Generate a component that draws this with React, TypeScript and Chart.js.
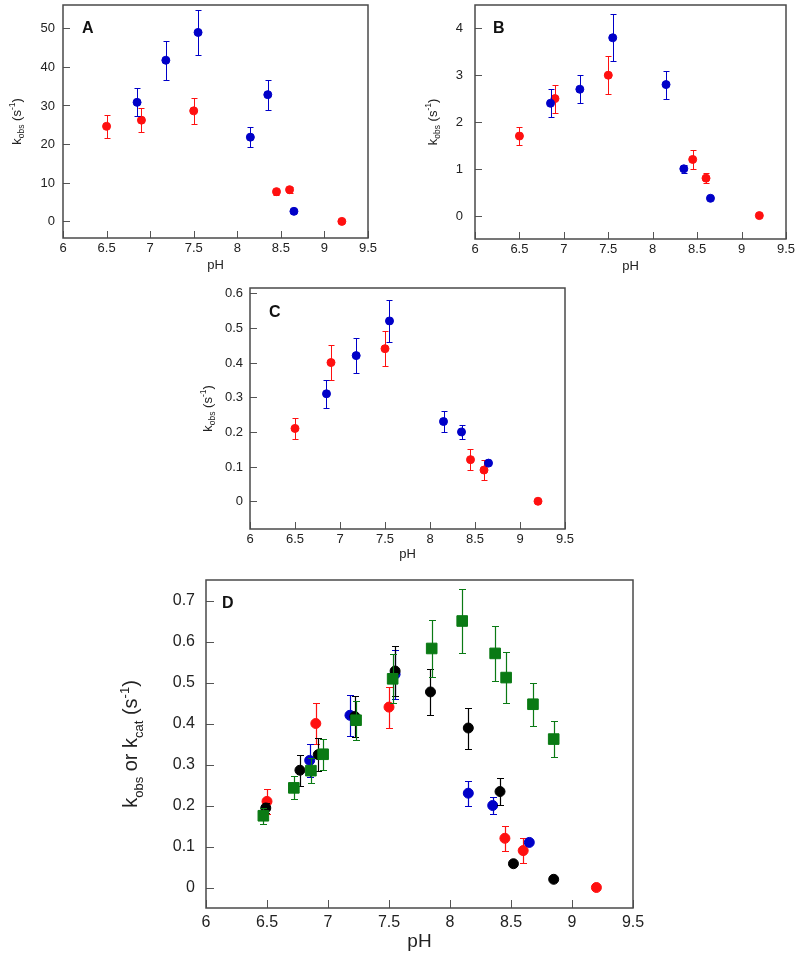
import React, { useEffect, useRef } from "react";
import { Chart, registerables } from "chart.js";

Chart.register(...registerables);

const FONT = '"Liberation Sans", Arial, Helvetica, sans-serif';

// ---------- shared axis values ----------
const xTicks = [6, 6.5, 7, 7.5, 8, 8.5, 9, 9.5];
const xTickLabels = ["6", "6.5", "7", "7.5", "8", "8.5", "9", "9.5"];

// ---------- Panel A ----------
const aBlueX = [6.85, 7.18, 7.55, 8.15, 8.35, 8.65];
const aBlueY = [30.8, 41.7, 48.9, 21.8, 32.8, 2.6];
const aBlueErr = [3.6, 5.0, 5.9, 2.6, 3.9, 0];
const aRedX = [6.5, 6.9, 7.5, 8.45, 8.6, 9.2];
const aRedY = [24.6, 26.2, 28.6, 7.7, 8.2, 0];
const aRedErr = [3.0, 3.1, 3.4, 0.8, 0.8, 0];
const aYTicks = [0, 10, 20, 30, 40, 50];
const aYLabels = ["0", "10", "20", "30", "40", "50"];

// ---------- Panel B ----------
const bBlueX = [6.85, 7.18, 7.55, 8.15, 8.35, 8.65];
const bBlueY = [2.4, 2.7, 3.8, 2.8, 1.0, 0.37];
const bBlueErr = [0.3, 0.3, 0.5, 0.3, 0.08, 0];
const bRedX = [6.5, 6.9, 7.5, 8.45, 8.6, 9.2];
const bRedY = [1.7, 2.5, 3.0, 1.2, 0.8, 0];
const bRedErr = [0.2, 0.3, 0.4, 0.2, 0.1, 0];
const bYTicks = [0, 1, 2, 3, 4];
const bYLabels = ["0", "1", "2", "3", "4"];

// ---------- Panel C (and D red/blue) ----------
const cBlueX = [6.85, 7.18, 7.55, 8.15, 8.35, 8.65];
const cBlueY = [0.31, 0.42, 0.52, 0.23, 0.2, 0.11];
const cBlueErr = [0.04, 0.05, 0.06, 0.03, 0.02, 0];
const cRedX = [6.5, 6.9, 7.5, 8.45, 8.6, 9.2];
const cRedY = [0.21, 0.4, 0.44, 0.12, 0.09, 0];
const cRedErr = [0.03, 0.05, 0.05, 0.03, 0.03, 0];
const cYTicks = [0, 0.1, 0.2, 0.3, 0.4, 0.5, 0.6];
const cYLabels = ["0", "0.1", "0.2", "0.3", "0.4", "0.5", "0.6"];

// ---------- Panel D extra series ----------
const dBlackX = [6.49, 6.77, 6.92, 7.22, 7.55, 7.84, 8.15, 8.41, 8.52, 8.85];
const dBlackY = [0.194, 0.286, 0.324, 0.417, 0.528, 0.477, 0.389, 0.234, 0.058, 0.02];
const dBlackErr = [0.012, 0.038, 0.04, 0.05, 0.06, 0.057, 0.05, 0.033, 0, 0];
const dGreenX = [6.47, 6.72, 6.86, 6.96, 7.23, 7.53, 7.85, 8.1, 8.37, 8.46, 8.68, 8.85];
const dGreenY = [0.175, 0.243, 0.285, 0.325, 0.408, 0.509, 0.583, 0.65, 0.571, 0.512, 0.447, 0.362];
const dGreenErr = [0.02, 0.028, 0.03, 0.038, 0.048, 0.06, 0.07, 0.077, 0.068, 0.062, 0.053, 0.043];
const dYTicks = [0, 0.1, 0.2, 0.3, 0.4, 0.5, 0.6, 0.7];
const dYLabels = ["0", "0.1", "0.2", "0.3", "0.4", "0.5", "0.6", "0.7"];

const RED = "#ff1010";
const BLUE = "#0000c8";
const BLACK = "#000000";
const GREEN = "#0a7a14";

type Part = { t: string; s: number; dy?: number };
type Series = { x: number[]; y: number[]; err: number[]; color: string; shape: "circle" | "rect" };
type PanelCfg = {
  box: { left: number; top: number; width: number; height: number };
  area: { l: number; t: number; r: number; b: number };
  yMin: number;
  yMax: number;
  yTicks: number[];
  yLabels: string[];
  tickFont: number;
  tickLen: number;
  yGap: number;
  xLabelDy: number;
  letter: string;
  letterX: number;
  letterY: number;
  letterFont: number;
  xTitleY: number;
  xTitleFont: number;
  yTitleX: number;
  yTitle: Part[];
  series: Series[];
  circleR: number;
  rectR: number;
  capW: number;
  errW: number;
  frameW: number;
};

function drawRich(ctx: CanvasRenderingContext2D, parts: Part[], cx: number, cy: number, rot: boolean, color: string) {
  ctx.save();
  ctx.translate(cx, cy);
  if (rot) ctx.rotate(-Math.PI / 2);
  ctx.fillStyle = color;
  ctx.textAlign = "left";
  ctx.textBaseline = "alphabetic";
  let total = 0;
  const widths = parts.map((p) => {
    ctx.font = `${p.s}px ${FONT}`;
    const w = ctx.measureText(p.t).width;
    total += w;
    return w;
  });
  const main = Math.max(...parts.map((p) => p.s));
  let x = -total / 2;
  parts.forEach((p, i) => {
    ctx.font = `${p.s}px ${FONT}`;
    ctx.fillText(p.t, x, main * 0.36 + (p.dy || 0));
    x += widths[i];
  });
  ctx.restore();
}

function titleK(main: number, sub: number): Part[] {
  return [
    { t: "k", s: main },
    { t: "obs", s: sub, dy: main * 0.28 },
    { t: " (s", s: main },
    { t: "-1", s: sub, dy: -main * 0.42 },
    { t: ")", s: main },
  ];
}

function titleKD(main: number, sub: number): Part[] {
  return [
    { t: "k", s: main },
    { t: "obs", s: sub, dy: main * 0.28 },
    { t: " or k", s: main },
    { t: "cat", s: sub, dy: main * 0.28 },
    { t: " (s", s: main },
    { t: "-1", s: sub, dy: -main * 0.42 },
    { t: ")", s: main },
  ];
}

const panels: PanelCfg[] = [
  {
    box: { left: 0, top: 0, width: 395, height: 282 },
    area: { l: 63, t: 5, r: 368, b: 238 },
    yMin: -4.3, yMax: 56, yTicks: aYTicks, yLabels: aYLabels,
    tickFont: 13, tickLen: 7, yGap: 8, xLabelDy: 10,
    letter: "A", letterX: 82, letterY: 33, letterFont: 16,
    xTitleY: 264, xTitleFont: 13, yTitleX: 16, yTitle: titleK(13, 8.5),
    series: [
      { x: aBlueX, y: aBlueY, err: aBlueErr, color: BLUE, shape: "circle" },
      { x: aRedX, y: aRedY, err: aRedErr, color: RED, shape: "circle" },
    ],
    circleR: 4, rectR: 6, capW: 3, errW: 1, frameW: 1.5,
  },
  {
    box: { left: 400, top: 0, width: 400, height: 282 },
    area: { l: 75, t: 5, r: 386, b: 239 },
    yMin: -0.5, yMax: 4.5, yTicks: bYTicks, yLabels: bYLabels,
    tickFont: 13, tickLen: 7, yGap: 12, xLabelDy: 10,
    letter: "B", letterX: 93, letterY: 33, letterFont: 16,
    xTitleY: 265, xTitleFont: 13, yTitleX: 32, yTitle: titleK(13, 8.5),
    series: [
      { x: bBlueX, y: bBlueY, err: bBlueErr, color: BLUE, shape: "circle" },
      { x: bRedX, y: bRedY, err: bRedErr, color: RED, shape: "circle" },
    ],
    circleR: 4, rectR: 6, capW: 3, errW: 1, frameW: 1.5,
  },
  {
    box: { left: 195, top: 280, width: 400, height: 290 },
    area: { l: 55, t: 8, r: 370, b: 249 },
    yMin: -0.08, yMax: 0.615, yTicks: cYTicks, yLabels: cYLabels,
    tickFont: 13, tickLen: 7, yGap: 7, xLabelDy: 10,
    letter: "C", letterX: 74, letterY: 37, letterFont: 16,
    xTitleY: 273, xTitleFont: 13, yTitleX: 12, yTitle: titleK(13, 8.5),
    series: [
      { x: cBlueX, y: cBlueY, err: cBlueErr, color: BLUE, shape: "circle" },
      { x: cRedX, y: cRedY, err: cRedErr, color: RED, shape: "circle" },
    ],
    circleR: 4, rectR: 6, capW: 3, errW: 1, frameW: 1.5,
  },
  {
    box: { left: 80, top: 565, width: 600, height: 396 },
    area: { l: 126, t: 15, r: 553, b: 343 },
    yMin: -0.05, yMax: 0.75, yTicks: dYTicks, yLabels: dYLabels,
    tickFont: 16, tickLen: 8, yGap: 11, xLabelDy: 15,
    letter: "D", letterX: 142, letterY: 43, letterFont: 16,
    xTitleY: 375, xTitleFont: 19, yTitleX: 50, yTitle: titleKD(20, 13),
    series: [
      { x: dGreenX, y: dGreenY, err: dGreenErr, color: GREEN, shape: "rect" },
      { x: dBlackX, y: dBlackY, err: dBlackErr, color: BLACK, shape: "circle" },
      { x: cBlueX, y: cBlueY, err: cBlueErr, color: BLUE, shape: "circle" },
      { x: cRedX, y: cRedY, err: cRedErr, color: RED, shape: "circle" },
    ],
    circleR: 5, rectR: 7.5, capW: 3.5, errW: 1.2, frameW: 1.5,
  },
];

function Panel({ cfg }: { cfg: PanelCfg }) {
  const ref = useRef<HTMLCanvasElement | null>(null);
  useEffect(() => {
    const canvas = ref.current;
    if (!canvas) return;
    const { area, box } = cfg;

    const framePlugin = {
      id: "frame",
      afterDraw(chart: any) {
        const ctx: CanvasRenderingContext2D = chart.ctx;
        const ca = chart.chartArea;
        const xs = chart.scales.x;
        const ys = chart.scales.y;
        ctx.save();
        // inward tick marks
        ctx.strokeStyle = "#555";
        ctx.lineWidth = 1;
        ctx.beginPath();
        cfg.yTicks.forEach((v) => {
          const py = Math.round(ys.getPixelForValue(v)) + 0.5;
          ctx.moveTo(ca.left, py);
          ctx.lineTo(ca.left + cfg.tickLen, py);
        });
        xTicks.forEach((v) => {
          const px = Math.round(xs.getPixelForValue(v)) + 0.5;
          ctx.moveTo(px, ca.bottom);
          ctx.lineTo(px, ca.bottom - cfg.tickLen);
        });
        ctx.stroke();
        // frame
        ctx.lineWidth = cfg.frameW;
        ctx.strokeStyle = "#4a4a4a";
        ctx.strokeRect(ca.left, ca.top, ca.right - ca.left, ca.bottom - ca.top);
        // tick labels
        ctx.fillStyle = "#222";
        ctx.font = `${cfg.tickFont}px ${FONT}`;
        ctx.textAlign = "right";
        ctx.textBaseline = "middle";
        cfg.yTicks.forEach((v, i) => {
          ctx.fillText(cfg.yLabels[i], ca.left - cfg.yGap, ys.getPixelForValue(v) + 0.5);
        });
        ctx.textAlign = "center";
        xTicks.forEach((v, i) => {
          ctx.fillText(xTickLabels[i], xs.getPixelForValue(v), ca.bottom + cfg.xLabelDy);
        });
        // panel letter
        ctx.fillStyle = "#111";
        ctx.font = `bold ${cfg.letterFont}px ${FONT}`;
        ctx.textAlign = "left";
        ctx.textBaseline = "alphabetic";
        ctx.fillText(cfg.letter, cfg.letterX, cfg.letterY);
        ctx.restore();
        // axis titles
        drawRich(ctx, [{ t: "pH", s: cfg.xTitleFont }], (ca.left + ca.right) / 2, cfg.xTitleY, false, "#222");
        drawRich(ctx, cfg.yTitle, cfg.yTitleX, (ca.top + ca.bottom) / 2, true, "#222");
      },
    };

    const errorPlugin = {
      id: "errbars",
      beforeDatasetDraw(chart: any, args: any) {
        const ds = chart.data.datasets[args.index];
        const errs: number[] = ds.errs;
        if (!errs) return;
        const ctx: CanvasRenderingContext2D = chart.ctx;
        const xs = chart.scales.x;
        const ys = chart.scales.y;
        ctx.save();
        ctx.strokeStyle = ds.errColor;
        ctx.lineWidth = cfg.errW;
        ctx.beginPath();
        ds.data.forEach((p: { x: number; y: number }, i: number) => {
          const e = errs[i];
          if (!e) return;
          const px = Math.round(xs.getPixelForValue(p.x)) + 0.5;
          const top = Math.round(ys.getPixelForValue(p.y + e)) + 0.5;
          const bot = Math.round(ys.getPixelForValue(p.y - e)) + 0.5;
          const c = cfg.capW;
          ctx.moveTo(px, top);
          ctx.lineTo(px, bot);
          ctx.moveTo(px - c, top);
          ctx.lineTo(px + c, top);
          ctx.moveTo(px - c, bot);
          ctx.lineTo(px + c, bot);
        });
        ctx.stroke();
        ctx.restore();
      },
    };

    const datasets = cfg.series.map((s) => ({
      data: s.x.map((xv, i) => ({ x: xv, y: s.y[i] })),
      errs: s.err,
      errColor: s.color,
      showLine: false,
      pointStyle: s.shape,
      pointRadius: s.shape === "rect" ? cfg.rectR : cfg.circleR,
      pointHoverRadius: s.shape === "rect" ? cfg.rectR : cfg.circleR,
      pointBackgroundColor: s.color,
      pointBorderColor: s.color,
      pointBorderWidth: 1,
      backgroundColor: s.color,
      borderColor: s.color,
    }));

    const chart = new Chart(canvas, {
      type: "scatter",
      data: { datasets: datasets as any },
      options: {
        animation: false,
        responsive: false,
        maintainAspectRatio: false,
        events: [],
        layout: {
          padding: { left: 0, top: area.t, right: box.width - area.r, bottom: 0 },
        },
        plugins: {
          legend: { display: false },
          tooltip: { enabled: false },
        },
        scales: {
          x: {
            type: "linear",
            min: 6,
            max: 9.5,
            grid: { display: false, drawTicks: false },
            border: { display: false },
            afterBuildTicks: (scale: any) => {
              scale.ticks = xTicks.map((v) => ({ value: v }));
            },
            afterFit: (scale: any) => {
              scale.height = box.height - area.b;
            },
            ticks: { display: false, autoSkip: false },
          },
          y: {
            type: "linear",
            min: cfg.yMin,
            max: cfg.yMax,
            grid: { display: false, drawTicks: false },
            border: { display: false },
            afterBuildTicks: (scale: any) => {
              scale.ticks = cfg.yTicks.map((v) => ({ value: v }));
            },
            afterFit: (scale: any) => {
              scale.width = area.l;
            },
            ticks: { display: false, autoSkip: false },
          },
        },
      } as any,
      plugins: [errorPlugin, framePlugin],
    });
    return () => chart.destroy();
  }, [cfg]);

  return (
    <canvas
      ref={ref}
      width={cfg.box.width}
      height={cfg.box.height}
      style={{
        position: "absolute",
        left: cfg.box.left,
        top: cfg.box.top,
        width: cfg.box.width,
        height: cfg.box.height,
      }}
    />
  );
}

export default function App() {
  return (
    <div
      style={{
        position: "absolute",
        left: 0,
        top: 0,
        width: 800,
        height: 961,
        background: "#ffffff",
        overflow: "hidden",
      }}
    >
      {panels.map((p, i) => (
        <Panel key={i} cfg={p} />
      ))}
    </div>
  );
}
